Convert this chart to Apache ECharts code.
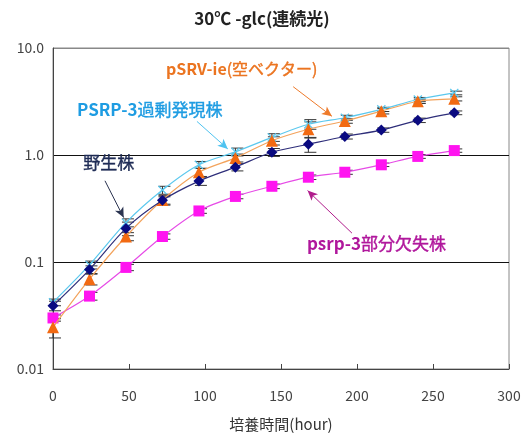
<!DOCTYPE html>
<html>
<head>
<meta charset="utf-8">
<script src="https://cdn.jsdelivr.net/npm/echarts@6/dist/echarts.min.js"></script>
<style>
  html, body { margin: 0; padding: 0; background: #fff; }
  #chart { width: 524px; height: 437px; }
</style>
</head>
<body>
<div id="chart"></div>
<script>
// Culture time (hours) and measured growth for each strain
const hours = [0, 24, 48, 72, 96, 120, 144, 168, 192, 216, 240, 264];

const wildType       = [0.039, 0.085, 0.206, 0.377, 0.57, 0.77, 1.06, 1.26, 1.49, 1.71, 2.11, 2.48];
const emptyVector    = [0.0245, 0.069, 0.173, 0.38, 0.69, 0.94, 1.36, 1.74, 2.08, 2.57, 3.18, 3.35];
const overexpression = [0.042, 0.094, 0.233, 0.47, 0.81, 1.07, 1.46, 1.94, 2.23, 2.67, 3.30, 3.8];
const deletion       = [0.030, 0.048, 0.089, 0.173, 0.30, 0.41, 0.51, 0.62, 0.69, 0.81, 0.97, 1.10];

// Standard deviations (same units as the values)
const wildTypeErr       = [0.004, 0.007, 0.03, 0.03, 0.05, 0.06, 0.09, 0.2, 0.08, 0.08, 0.1, 0.1];
const emptyVectorErr    = [0.005, 0.008, 0.015, 0.04, 0.06, 0.08, 0.12, 0.3, 0.1, 0.15, 0.15, 0.15];
const overexpressionErr = [0.003, 0.008, 0.02, 0.04, 0.06, 0.09, 0.12, 0.2, 0.12, 0.12, 0.15, 0.15];
const deletionErr       = [0.002, 0.004, 0.006, 0.01, 0.015, 0.02, 0.025, 0.03, 0.03, 0.03, 0.04, 0.04];

// Axis ticks
const xTicks = [0, 50, 100, 150, 200, 250, 300];
const yTickLabels = { '0.01': '0.01', '0.1': '0.1', '1': '1.0', '10': '10.0' };

// Strain names and callout arrows (data coordinates: [start], [end])
const names = {
  wild: '野生株',
  empty: 'pSRV-ie(空ベクター)',
  over: 'PSRP-3過剰発現株',
  del: 'psrp-3部分欠失株'
};
const arrows = {
  wild:  [[34.2, 0.574], [46.5, 0.26]],
  empty: [[158, 4.35], [183.5, 2.3]],
  over:  [[94.7, 2.06], [115, 1.14]],
  del:   [[196.7, 0.186], [167.5, 0.465]]
};

const FONT = '"Noto Sans CJK JP", "Noto Sans", sans-serif';

function pairs(vals) { return hours.map((h, i) => [h, vals[i]]); }
function errRows(vals, errs) { return hours.map((h, i) => [h, vals[i] - errs[i], vals[i] + errs[i]]); }

function errorSeries(vals, errs, z) {
  return {
    type: 'custom',
    z: z,
    silent: true,
    data: errRows(vals, errs),
    renderItem: function (params, api) {
      const lo = api.coord([api.value(0), api.value(1)]);
      const hi = api.coord([api.value(0), api.value(2)]);
      const x = lo[0];
      const style = { stroke: '#333', lineWidth: 1 };
      return {
        type: 'group',
        children: [
          { type: 'line', shape: { x1: x, y1: lo[1], x2: x, y2: hi[1] }, style: style },
          { type: 'line', shape: { x1: x - 4, y1: lo[1], x2: x + 8, y2: lo[1] }, style: style },
          { type: 'line', shape: { x1: x - 4, y1: hi[1], x2: x + 8, y2: hi[1] }, style: style }
        ]
      };
    }
  };
}

function arrowLine(key, color) {
  const a = arrows[key];
  return {
    silent: true,
    symbol: ['none', 'arrow'],
    symbolSize: [7, 10],
    label: { show: false },
    lineStyle: { color: color, width: 1, type: 'solid' },
    data: [[{ coord: a[0] }, { coord: a[1] }]]
  };
}

function lineSeries(name, vals, lineColor, symbol, symbolSize, markerColor, z, arrowColor, key) {
  return {
    name: name,
    type: 'line',
    z: z,
    smooth: 0.3,
    data: pairs(vals),
    symbol: symbol,
    symbolSize: symbolSize,
    showAllSymbol: true,
    lineStyle: { color: lineColor, width: 1.2 },
    itemStyle: { color: markerColor },
    markLine: arrowLine(key, arrowColor)
  };
}

// Callout text: Latin part in bold, Japanese part in regular weight
function callout(text, left, top, size, color) {
  const m = text.match(/^([A-Za-z0-9\-]*)(.*)$/);
  const latin = m[1], rest = m[2];
  let s = '';
  if (latin) s += '{b|' + latin + '}';
  if (rest) s += '{n|' + rest + '}';
  return {
    type: 'text', left: left, top: top, z: 10,
    style: {
      text: s,
      rich: {
        b: { fontFamily: FONT, fontSize: size, fontWeight: 'bold', fill: color, color: color },
        n: { fontFamily: FONT, fontSize: size, fontWeight: 'normal', fill: color, color: color, textStroke: color, lineWidth: 0.4, stroke: color }
      }
    }
  };
}

const chart = echarts.init(document.getElementById('chart'), null, { renderer: 'canvas' });

const crossPath = 'path://M0,1 L1,0 L5,4 L9,0 L10,1 L6,5 L10,9 L9,10 L5,6 L1,10 L0,9 L4,5 Z';

chart.setOption({
  backgroundColor: '#fff',
  animation: false,
  title: {
    text: '30℃ -glc(連続光)',
    left: 'center',
    top: 5,
    textStyle: { fontFamily: FONT, fontSize: 17, fontWeight: 'bold', color: '#222' }
  },
  grid: {
    left: 53, right: 15, top: 48, bottom: 65,
    show: true, borderColor: '#888', borderWidth: 1
  },
  xAxis: {
    type: 'value',
    min: xTicks[0],
    max: xTicks[xTicks.length - 1],
    interval: 50,
    name: '培養時間(hour)',
    nameLocation: 'middle',
    nameGap: 48,
    nameTextStyle: { fontFamily: FONT, fontSize: 15, color: '#333' },
    axisLine: { lineStyle: { color: '#444', width: 1 } },
    axisTick: { inside: true, length: 5, lineStyle: { color: '#444' } },
    axisLabel: { fontFamily: FONT, fontSize: 14, color: '#444', margin: 20 },
    splitLine: { show: false }
  },
  yAxis: {
    type: 'log',
    logBase: 10,
    min: 0.01,
    max: 10,
    axisLine: { show: true, lineStyle: { color: '#444', width: 1 } },
    axisTick: { show: false },
    axisLabel: {
      fontFamily: FONT, fontSize: 14, color: '#444', margin: 9,
      formatter: function (v) {
        const k = String(+v.toPrecision(3));
        return yTickLabels[k] !== undefined ? yTickLabels[k] : '';
      }
    },
    splitLine: { show: true, lineStyle: { color: ['#888', '#111', '#111', '#888'], width: 1 } },
    minorTick: { show: false },
    minorSplitLine: { show: false }
  },
  series: [
    errorSeries(deletion, deletionErr, 2),
    errorSeries(overexpression, overexpressionErr, 2),
    errorSeries(emptyVector, emptyVectorErr, 2),
    errorSeries(wildType, wildTypeErr, 2),
    lineSeries(names.over, overexpression, '#5BC8EE', crossPath, 9, '#5BC8EE', 3, '#4FC3F0', 'over'),
    lineSeries(names.del, deletion, '#E64BE6', 'rect', 11, '#FF14F0', 4, '#B01C8C', 'del'),
    lineSeries(names.empty, emptyVector, '#F3A35C', 'triangle', 12, '#F26A12', 5, '#EE7A2A', 'empty'),
    lineSeries(names.wild, wildType, '#2E2E7A', 'diamond', 11, '#0A0A80', 6, '#2A3350', 'wild')
  ],
  graphic: [
    callout(names.empty, 166, 61, 16, '#EB7420'),
    callout(names.over, 77, 101, 17, '#1E9CE2'),
    callout(names.wild, 83, 154, 17, '#1E2B55'),
    callout(names.del, 307, 235, 17, '#B0179C')
  ]
});
</script>
</body>
</html>
